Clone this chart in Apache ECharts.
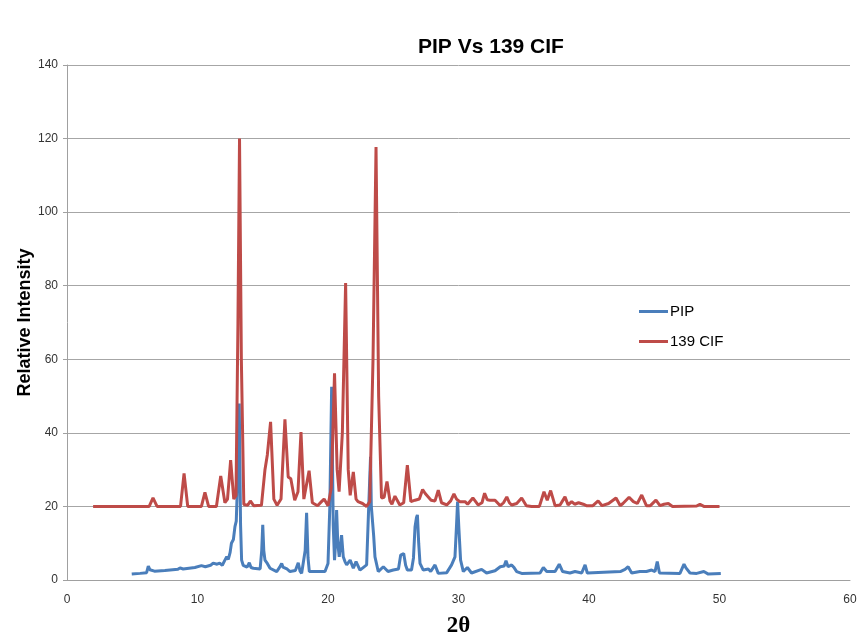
<!DOCTYPE html>
<html>
<head>
<meta charset="utf-8">
<script src="https://cdn.jsdelivr.net/npm/echarts@6/dist/echarts.min.js"></script>
<style>html,body{margin:0;padding:0;background:#fff}#c{width:862px;height:634px}</style>
</head>
<body>
<div id="c"></div>
<script>
var xTicks = [0, 10, 20, 30, 40, 50, 60];
var yTicks = [0, 20, 40, 60, 80, 100, 120, 140];
var seriesNames = ["PIP", "139 CIF"];

var pipX = [4.96,5.6,6.1,6.23,6.35,6.5,6.7,7.5,8.5,8.66,8.9,9.8,10.3,10.6,11.0,11.2,11.34,11.5,11.7,11.9,12.1,12.24,12.36,12.5,12.6,12.75,12.87,12.97,13.1,13.2,13.3,13.38,13.5,13.64,13.8,13.97,14.1,14.28,14.8,14.92,15.0,15.08,15.17,15.35,15.56,16.07,16.3,16.45,16.55,16.7,16.85,17.09,17.5,17.72,17.85,17.98,18.25,18.36,18.47,18.57,19.77,20.0,20.14,20.28,20.4,20.5,20.58,20.66,20.75,20.86,21.04,21.17,21.3,21.43,21.7,21.94,22.15,22.45,22.96,23.1,23.17,23.26,23.32,23.42,23.5,23.6,23.85,24.24,24.6,25.0,25.4,25.57,25.7,25.8,25.95,26.08,26.4,26.55,26.67,26.78,26.85,26.95,27.05,27.3,27.7,27.87,28.2,28.45,29.1,29.47,29.73,29.85,29.93,30.03,30.16,30.37,30.68,31.0,31.77,32.15,32.8,33.2,33.5,33.64,33.8,34.07,34.27,34.46,34.84,36.25,36.5,36.76,37.4,37.72,37.98,38.54,38.93,39.44,39.7,39.87,42.4,42.76,43.0,43.27,43.9,44.4,44.8,45.06,45.23,45.4,46.97,47.28,47.43,47.74,48.25,48.8,49.14,50.1];
var pipY = [1.6,1.8,2.0,3.8,2.8,3.3,2.4,2.6,2.9,3.3,3.0,3.4,3.9,3.6,4.0,4.6,5.0,4.3,4.6,4.0,5.4,6.3,5.6,7.5,10,11,14.5,16,30,48,15,5.4,4.0,3.6,3.5,4.7,3.4,3.2,3.0,8,15,8,5.4,4.5,3.2,2.3,3.5,4.5,3.5,3.8,3.0,2.3,2.6,4.7,2.5,1.8,8,18.3,6,2.3,2.3,4.5,20,52.5,15,5.4,10,19,10,6.3,12.2,6.3,5,4.1,5.4,3.2,5.0,2.7,4.1,18,18.3,33.5,20,20,12,6.3,2.3,3.6,2.3,2.7,3.0,6.8,6.5,7.2,4,2.7,2.7,6,14.5,17,17.7,10,4.5,2.7,3.0,2.3,4.1,1.8,2.0,4.1,6.3,15,21.3,14,5.4,2.3,3.4,1.9,2.9,1.9,2.5,3.6,3.8,5.2,3.6,4.1,3.3,2.3,1.8,1.9,3.4,2.3,2.3,4.3,2.3,1.9,2.3,1.9,4.1,1.9,2.3,2.9,3.6,1.9,2.3,2.3,2.7,2.3,5.0,1.9,1.8,4.3,3.3,1.9,1.8,2.3,1.6,1.8];

var cifX = [2.0,6.3,6.59,6.9,8.7,8.97,9.25,10.3,10.57,10.85,11.45,11.78,12.1,12.3,12.54,12.78,12.95,13.1,13.22,13.36,13.55,13.85,14.05,14.3,14.9,15.17,15.35,15.6,15.85,16.1,16.4,16.7,16.95,17.15,17.45,17.7,17.93,18.15,18.3,18.55,18.8,19.2,19.5,19.7,20.0,20.25,20.5,20.7,20.85,21.1,21.35,21.55,21.7,21.94,22.15,22.3,22.65,22.96,23.2,23.45,23.68,23.88,24.1,24.3,24.52,24.75,24.9,25.13,25.5,25.8,26.08,26.35,26.67,27.0,27.25,27.45,27.6,27.9,28.2,28.45,28.7,29.1,29.4,29.65,29.85,30.1,30.5,30.7,31.1,31.5,31.8,32.0,32.2,32.4,32.8,33.2,33.45,33.7,33.9,34.07,34.46,34.84,35.2,35.6,36.2,36.55,36.8,37.06,37.4,37.78,38.16,38.4,38.67,38.9,39.2,39.56,39.8,40.3,40.7,41.0,41.5,41.65,42.07,42.4,42.6,43.07,43.4,43.7,44.04,44.4,44.7,45.13,45.44,45.75,46.08,46.4,48.25,48.5,48.8,50.0];
var cifY = [20,20,22.3,20,20,29,20,20,23.8,20,20,28.3,21,22,32.6,22,23,70,120,60,20.5,20.3,21.5,20.2,20.3,30,34,43,22,20.3,22,43.7,28,27.5,21.7,24,40.2,22,22.5,29.7,21,20.2,21.3,22,20.2,25,56.2,30,24,40,80.7,30,23,29.4,22,21.3,20.8,20,21.3,60,117.7,50,22.3,22.5,26.8,21.5,20.6,22.8,20.4,21,31.2,21.3,21.7,22,24.6,23.5,24,21.7,21.5,24.4,21,20.4,21.5,23.4,22,21.3,21.3,20.6,22.3,20.4,21,23.6,21.8,21.7,21.7,20.2,21,22.6,21,20.4,20.8,22.3,20.2,20,20,24,21.7,24.3,20.2,20.4,22.6,20.4,21.3,20.6,21,20.6,20.2,20.2,21.5,20.2,20.8,20.3,22.3,20.2,20.8,22.5,21.3,20.8,23.1,20.2,20.2,21.7,20.2,20.6,20.8,20,20.1,20.6,20,20];

function pairs(xs, ys) { return xs.map(function (x, i) { return [x, ys[i]]; }); }

var chart = echarts.init(document.getElementById('c'), null, {renderer: 'canvas'});
var font = "'Liberation Sans', Arial, sans-serif";
chart.setOption({
  animation: false,
  backgroundColor: '#ffffff',
  title: {
    text: 'PIP Vs 139 CIF',
    left: 413, top: 32,
    textStyle: {fontFamily: font, fontWeight: 'bold', fontSize: 21, color: '#000'}
  },
  legend: {
    data: seriesNames,
    orient: 'vertical',
    left: 634, top: 299,
    icon: 'rect',
    itemWidth: 29, itemHeight: 3, itemGap: 15,
    textStyle: {fontFamily: font, fontSize: 15, color: '#000', padding: [0, 0, 0, -3]}
  },
  grid: {left: 67, right: 12, top: 65, bottom: 54, containLabel: false, outerBoundsMode: 'none'},
  xAxis: {
    type: 'value', min: xTicks[0], max: xTicks[xTicks.length - 1], interval: 10,
    name: '2θ', nameLocation: 'middle', nameGap: 35, nameMoveOverlap: false,
    nameTextStyle: {fontFamily: "'Liberation Serif', 'DejaVu Serif', serif", fontWeight: 'bold', fontSize: 23, color: '#000'},
    axisLine: {show: true, lineStyle: {color: '#a0a0a0', width: 1}},
    axisTick: {show: false},
    axisLabel: {fontFamily: font, fontSize: 12, color: '#333', margin: 14},
    splitLine: {show: false}
  },
  yAxis: {
    type: 'value', min: yTicks[0], max: yTicks[yTicks.length - 1], interval: 20,
    name: 'Relative Intensity', nameLocation: 'middle', nameGap: 33, nameMoveOverlap: false,
    nameTextStyle: {fontFamily: font, fontWeight: 'bold', fontSize: 18, color: '#000'},
    axisLine: {show: true, lineStyle: {color: '#a0a0a0', width: 1}},
    axisTick: {show: true, length: 4, lineStyle: {color: '#a0a0a0'}},
    axisLabel: {fontFamily: font, fontSize: 12, color: '#333', margin: 9},
    splitLine: {show: true, lineStyle: {color: '#a6a6a6', width: 1}}
  },
  series: [
    {name: seriesNames[0], type: 'line', data: pairs(pipX, pipY), symbol: 'none', smooth: false,
     lineStyle: {color: '#4a7ebb', width: 3}, itemStyle: {color: '#4a7ebb'}, z: 2},
    {name: seriesNames[1], type: 'line', data: pairs(cifX, cifY), symbol: 'none', smooth: false,
     lineStyle: {color: '#be4b48', width: 3}, itemStyle: {color: '#be4b48'}, z: 3}
  ]
});
</script>
</body>
</html>
